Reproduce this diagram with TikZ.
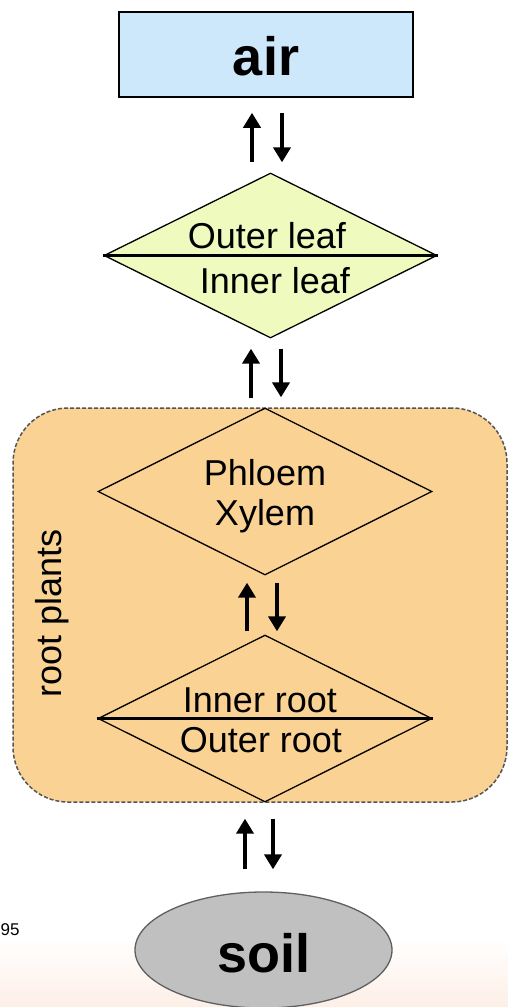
\documentclass[tikz,border=0pt]{standalone}
\usepackage{fontspec}
\setmainfont{Liberation Sans}
\usetikzlibrary{shapes.geometric,arrows.meta,calc}

\definecolor{airfill}{RGB}{204,232,250}
\definecolor{leaffill}{RGB}{238,250,190}
\definecolor{rootfill}{RGB}{250,211,148}
\definecolor{soilfill}{RGB}{192,192,192}
\definecolor{soilline}{RGB}{95,95,95}
\definecolor{dashline}{RGB}{85,85,85}
\definecolor{peach}{RGB}{253,239,230}

\tikzset{
  label36/.style={font=\fontsize{36}{40}\selectfont, inner sep=0pt, anchor=base},
  bigbold/.style={font=\fontsize{54}{60}\selectfont\bfseries, inner sep=0pt, anchor=base},
  tissue/.style={diamond, draw=black, line width=1.3pt, inner sep=0pt,
    minimum width=334pt, minimum height=167pt},
  midline/.style={line width=2.5pt},
  flow/.style={line width=4.6pt, -{Triangle[length=15pt,width=17pt]}},
  rootbox/.style={draw=dashline, fill=rootfill, line width=1.5pt,
    dash pattern=on 4pt off 2pt, rounded corners=55pt, inner sep=0pt},
}

\begin{document}
\begin{tikzpicture}[x=1pt,y=-1pt]
\useasboundingbox (0,0) rectangle (508,1007);

% faint warm wash along the lower edge
\shade[top color=white, bottom color=peach] (0,938) rectangle (508,1007);

% compartments
\node[draw=black, fill=airfill, line width=1.5pt, minimum width=294pt,
      minimum height=85pt, inner sep=0pt] (air) at (266,54.5) {};
\node[bigbold] (airtxt) at (266,75) {air};

\node[tissue, fill=leaffill, minimum width=333pt, minimum height=165pt] (leaf) at (270.5,255.5) {};
\draw[midline] (leaf.west) -- (leaf.east);
\node[label36] (outerleaf) at (267,248) {Outer leaf};
\node[label36] (innerleaf) at (275,293) {Inner leaf};

\node[rootbox, minimum width=494pt, minimum height=394pt] (roots) at (260,605) {};
\node[label36, rotate=90] (rootlabel) at (61,613) {root plants};

\node[tissue] (vessels) at (265,491.5) {};
\node[label36] (phloem) at (265,485) {Phloem};
\node[label36] (xylem) at (265,525) {Xylem};

\node[tissue] (root) at (265,718.5) {};
\draw[midline] (root.west) -- (root.east);
\node[label36] (innerroot) at (260,712) {Inner root};
\node[label36] (outerroot) at (261,752) {Outer root};

\node[ellipse, draw=soilline, fill=soilfill, line width=1.3pt, inner sep=0pt,
      minimum width=257pt, minimum height=116pt] (soil) at (263.5,950) {};
\node[bigbold] (soiltxt) at (264,972) {soil};

\node[font=\fontsize{17}{20}\selectfont, inner sep=0pt, anchor=base west] (pagenum) at (0.5,935) {95};

% exchange arrows between neighbouring compartments
\draw[flow] ($(leaf.north)+(-18.5,-10)$) -- ($(air.south)+(-14,15)$);
\draw[flow] ($(air.south)+(16,15)$) -- ($(leaf.north)+(11.5,-10)$);

\draw[flow] ($(vessels.north)+(-14,-9)$) -- ($(leaf.south)+(-19.5,10)$);
\draw[flow] ($(leaf.south)+(10.5,10)$) -- ($(vessels.north)+(16,-10)$);

\draw[flow] ($(root.north)+(-18,-3)$) -- ($(vessels.south)+(-18,7)$);
\draw[flow] ($(vessels.south)+(12,7)$) -- ($(root.north)+(12,-3)$);

\draw[flow] ($(soil.north)+(-18.5,-22)$) -- ($(root.south)+(-20,16)$);
\draw[flow] ($(root.south)+(8,16)$) -- ($(soil.north)+(9.5,-22)$);
\end{tikzpicture}
\end{document}
